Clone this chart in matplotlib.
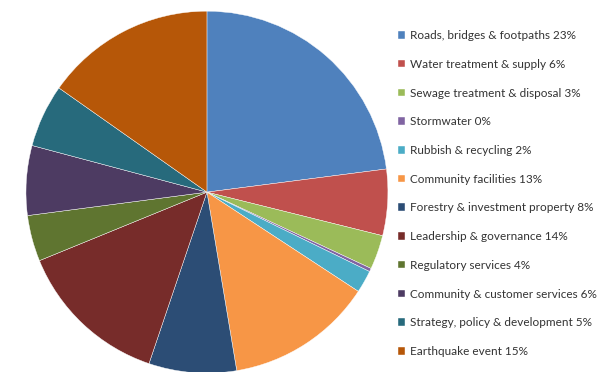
import matplotlib
matplotlib.use('Agg')
import matplotlib.pyplot as plt

categorias = ['Roads, bridges & footpaths 23%', 'Water treatment & supply 6%',
              'Sewage treatment & disposal 3%', 'Stormwater 0%', 'Rubbish & recycling 2%',
              'Community facilities 13%', 'Forestry & investment property 8%',
              'Leadership & governance 14%', 'Regulatory services 4%',
              'Community & customer services 6%', 'Strategy, policy & development 5%',
              'Earthquake event 15%']
valores = [22.9, 5.9, 3.05, 0.3, 2.0, 13.1, 7.8, 13.6, 4.1, 6.2, 5.6, 15.2]
colores = ['#4F81BD', '#C0504D', '#9BBB59', '#8064A2', '#4BACC6', '#F79646',
           '#2C4D75', '#772C2A', '#5F7530', '#4D3B62', '#276A7C', '#B65708']

plt.rcParams['font.family'] = ['Lato', 'DejaVu Sans']

fig = plt.figure(figsize=(6.15, 3.72), dpi=100)
ax = fig.add_axes([0.042, -0.003, 0.589, 0.973])

cunas, _ = ax.pie(valores, colors=colores, startangle=90, counterclock=False,
                  wedgeprops={'edgecolor': 'white', 'linewidth': 0.3})
ax.set_xlim(-1, 1)
ax.set_ylim(-1, 1)
ax.set_aspect('equal')
ax.axis('off')

fig.legend(cunas, categorias, loc='upper left', bbox_to_anchor=(0.647, 0.919),
           frameon=False, fontsize=8.5, labelspacing=1.5, handlelength=0.6,
           handleheight=0.6, handletextpad=0.4, borderpad=0, borderaxespad=0,
           labelcolor='#333333')

fig.savefig('out.png', dpi=100)
